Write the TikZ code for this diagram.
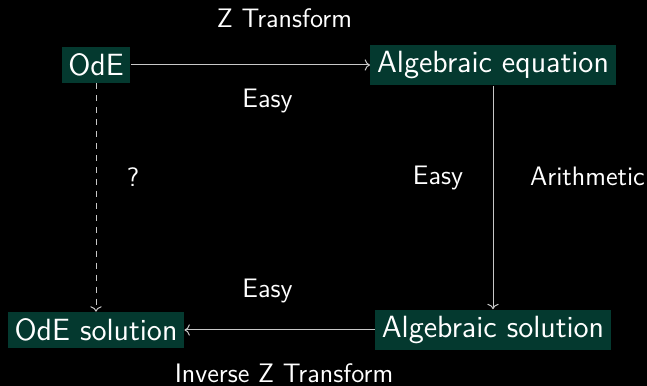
\documentclass[tikz,border=0pt]{standalone}
\definecolor{boxgreen}{RGB}{4,57,47}
\definecolor{linegray}{RGB}{200,200,200}
\usetikzlibrary{arrows.meta, positioning}

\begin{document}
\begin{tikzpicture}[x=0.5bp, y=-0.5bp, font=\sffamily\fontsize{13.4}{16}\selectfont,
  box/.style={fill=boxgreen, text=white, font=\sffamily\fontsize{15.4}{18}\selectfont},
  lbl/.style={text=white, anchor=base},
  conn/.style={draw=linegray, line width=0.5bp, ->}]
  % background, fixes the margins
  \fill[black] (0,0) rectangle (647,386);
  \useasboundingbox (0,0) rectangle (647,386);

  \node[box] (ode) at (96,65) {OdE};
  \node[box] (algeq) at (493,65) {Algebraic equation};
  \node[box] (algsol) at (493,330) {Algebraic solution};
  \node[box] (odesol) at (96,330) {OdE solution};

  \draw[conn] (ode) -- (algeq);
  \draw[conn] (algeq) -- (algsol);
  \draw[conn] (algsol) -- (odesol);
  \draw[conn, dashed] (ode) -- (odesol);

  \node[lbl] (ztr) at (284.5,28) {Z Transform};
  \node[lbl] (easytop) at (267.5,108) {Easy};
  \node[lbl] (quest) at (133,187) {?};
  \node[lbl] (easyright) at (438,185) {Easy};
  \node[lbl] (arith) at (587.5,186) {Arithmetic};
  \node[lbl] (easybot) at (267.5,298) {Easy};
  \node[lbl] (iztr) at (284,383) {Inverse Z Transform};
\end{tikzpicture}
\end{document}
